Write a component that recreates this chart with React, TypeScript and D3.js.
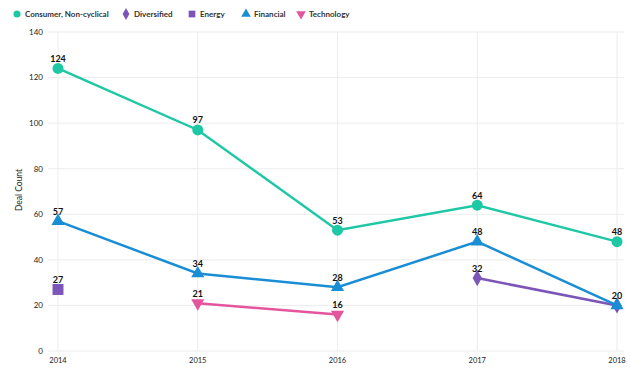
import * as d3 from 'd3';
import React, { ReactElement, useEffect, useRef } from 'react';

const WIDTH = 630;
const HEIGHT = 372;

const years = [2014, 2015, 2016, 2017, 2018];
const yTicks = [0, 20, 40, 60, 80, 100, 120, 140];

const consumerValues = [124, 97, 53, 64, 48];
const diversifiedValues = [null, null, null, 32, 20];
const energyValues = [27, null, null, null, null];
const financialValues = [57, 34, 28, 48, 20];
const technologyValues = [null, 21, 16, null, null];

const seriesNames = ['Consumer, Non-cyclical', 'Diversified', 'Energy', 'Financial', 'Technology'];
const seriesColors = ['#1fc8a5', '#7c55b8', '#7c55b8', '#1a8ed5', '#e5559d'];
const seriesSymbols = [d3.symbolCircle, d3.symbolDiamond, d3.symbolSquare, d3.symbolTriangle, d3.symbolTriangle];
const seriesValues = [consumerValues, diversifiedValues, energyValues, financialValues, technologyValues];

const FONT = 'Lato, "DejaVu Sans", sans-serif';

const App = (): ReactElement => {
  const ref = useRef(null);

  useEffect(() => {
    const root = d3.select(ref.current);
    root.selectAll('*').remove();
    const svg = root
      .append('svg')
      .attr('width', WIDTH)
      .attr('height', HEIGHT)
      .style('display', 'block')
      .style('font-family', FONT);

    const x = d3.scalePoint<number>().domain(years).range([58, 617]);
    const y = d3.scaleLinear().domain([0, 140]).range([351, 32]);

    // grid
    svg
      .append('g')
      .selectAll('line')
      .data(yTicks)
      .enter()
      .append('line')
      .attr('x1', 48)
      .attr('x2', 624)
      .attr('y1', (d) => y(d))
      .attr('y2', (d) => y(d))
      .attr('stroke', '#ececec')
      .attr('stroke-width', 1);

    svg
      .append('g')
      .selectAll('line')
      .data(years)
      .enter()
      .append('line')
      .attr('x1', (d) => x(d))
      .attr('x2', (d) => x(d))
      .attr('y1', 32)
      .attr('y2', 351)
      .attr('stroke', '#ececec')
      .attr('stroke-width', 1);

    // y tick labels
    svg
      .append('g')
      .selectAll('text')
      .data(yTicks)
      .enter()
      .append('text')
      .attr('x', 43)
      .attr('y', (d) => y(d))
      .attr('dy', '0.35em')
      .attr('text-anchor', 'end')
      .attr('font-size', 8)
      .attr('fill', '#222')
      .text((d) => d);

    // x tick labels
    svg
      .append('g')
      .selectAll('text')
      .data(years)
      .enter()
      .append('text')
      .attr('x', (d) => x(d))
      .attr('y', 363)
      .attr('text-anchor', 'middle')
      .attr('font-size', 7.5)
      .attr('fill', '#222')
      .text((d) => d);

    svg
      .append('text')
      .attr('transform', `translate(22, 190) rotate(-90)`)
      .attr('text-anchor', 'middle')
      .attr('font-size', 8.5)
      .attr('fill', '#222')
      .text('Deal Count');

    seriesValues.forEach((vals, i) => {
      const pts = years
        .map((yr, j) => ({ yr, v: vals[j] }))
        .filter((p) => p.v !== null) as { yr: number; v: number }[];
      const color = seriesColors[i];
      const line = d3
        .line<{ yr: number; v: number }>()
        .x((d) => x(d.yr) as number)
        .y((d) => y(d.v));
      svg
        .append('path')
        .attr('d', line(pts))
        .attr('fill', 'none')
        .attr('stroke', color)
        .attr('stroke-width', 2.5);

      const size = i === 2 ? 120 : i === 0 ? 95 : 75;
      const sym = d3.symbol().type(seriesSymbols[i]).size(size);
      svg
        .append('g')
        .selectAll('path')
        .data(pts)
        .enter()
        .append('path')
        .attr('d', sym)
        .attr('fill', color)
        .attr('transform', (d) => `translate(${x(d.yr)},${y(d.v)})${i === 4 ? ' rotate(180)' : ''}`);
    });

    // data labels
    const labelled = new Set<string>();
    seriesValues.forEach((vals) => {
      const pts = years
        .map((yr, j) => ({ yr, v: vals[j] }))
        .filter((p) => p.v !== null && !labelled.has(`${p.yr}-${p.v}`));
      pts.forEach((p) => labelled.add(`${p.yr}-${p.v}`));
      svg
        .append('g')
        .selectAll('text')
        .data(pts)
        .enter()
        .append('text')
        .attr('x', (d) => x(d.yr) as number)
        .attr('y', (d) => y(d.v as number) - 6.5)
        .attr('text-anchor', 'middle')
        .attr('font-size', 9)
        .attr('font-weight', 'bold')
        .attr('fill', '#111')
        .text((d) => d.v as number);
    });

    // legend
    const legendX = [17, 126, 192, 246, 301];
    const legend = svg.append('g');
    seriesNames.forEach((name, i) => {
      const g = legend.append('g').attr('transform', `translate(${legendX[i]}, 14)`);
      g.append('path')
        .attr('d', d3.symbol().type(seriesSymbols[i]).size(i === 2 ? 45 : 40))
        .attr('fill', seriesColors[i])
        .attr('transform', i === 4 ? 'rotate(180)' : '');
      g.append('text')
        .attr('x', 8)
        .attr('dy', '0.35em')
        .attr('font-size', 8)
        .attr('font-weight', 'bold')
        .attr('fill', '#333')
        .text(name);
    });
  }, []);

  return <div ref={ref} style={{ position: 'absolute', left: 0, top: 0 }}></div>;
};

export default App;
